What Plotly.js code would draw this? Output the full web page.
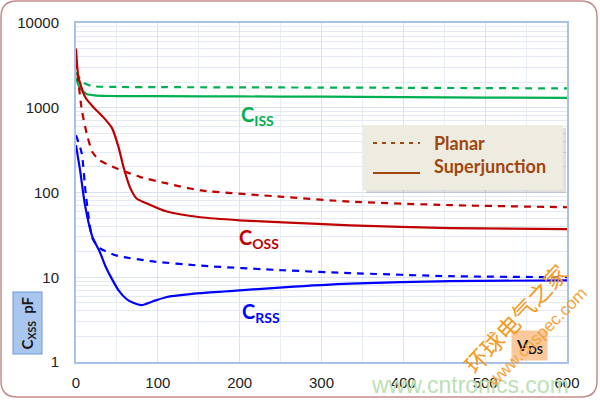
<!DOCTYPE html>
<html>
<head>
<meta charset="utf-8">
<script src="https://cdn.plot.ly/plotly-3.0.1.min.js"></script>
<style>
  html, body { margin: 0; padding: 0; background: #ffffff; }
  #chart { width: 600px; height: 400px; }
</style>
</head>
<body>
<div id="chart"></div>
<script>
// drain voltage VDS (V) and capacitance (pF)
const planarCissX = [0, 5, 10, 20, 50, 100, 200, 300, 400, 500, 600];
const planarCissY = [2600, 2200, 1950, 1800, 1760, 1750, 1740, 1730, 1720, 1705, 1690];

const sjCissX = [0, 3, 6, 13, 25, 50, 100, 200, 300, 400, 500, 600];
const sjCissY = [2250, 1850, 1650, 1450, 1390, 1375, 1370, 1360, 1350, 1335, 1320, 1310];

const planarCossX = [0, 3, 7, 13, 20, 29, 50, 78, 111, 152, 253, 335, 457, 600];
const planarCossY = [3500, 2000, 950, 500, 300, 240, 192, 153, 128, 106, 89, 78, 71, 67];

const sjCossX = [0, 3, 11, 21, 33, 44, 52, 58, 66, 74, 87, 110, 152, 200, 253, 335, 457, 600];
const sjCossY = [5000, 2300, 1350, 1020, 780, 575, 343, 200, 115, 85, 74, 60, 51, 47, 44.5, 41, 38, 37];

const planarCrssX = [0, 7, 12, 20, 29, 50, 91, 152, 253, 335, 457, 600];
const planarCrssY = [475, 290, 95, 29, 22, 18, 15.5, 13.7, 12.1, 11.2, 10.3, 10.0];

const sjCrssX = [0, 5, 11, 20, 29, 36, 44, 52, 62, 70, 80, 94, 111, 152, 200, 253, 335, 457, 600];
const sjCrssY = [362, 183, 71, 30, 20, 13.5, 9.5, 7.0, 5.5, 5.0, 4.7, 5.2, 5.85, 6.5, 7.0, 7.6, 8.4, 9.0, 9.2];

const yTickVals = [1, 10, 100, 1000, 10000];
const yTickText = ["1", "10", "100", "1000", "10000"];

const green = "#00B050";
const red = "#C00000";
const blue = "#0000FF";
const brown = "#A0460E";

// plot area in pixels: x 76..567, y 23..362
const L = 76, R = 567, T = 23, B = 362;
const px = (x) => (x - L) / (R - L);
const py = (y) => (B - y) / (B - T);

const minorY = [];
[1, 10, 100, 1000].forEach((d) => {
  for (let k = 2; k <= 9; k++) minorY.push(d * k);
});

const curve = (x, y, color, dash) => ({
  type: "scatter",
  mode: "lines",
  x,
  y,
  line: { color, width: 2.2, dash, shape: "spline", smoothing: 0.6 },
  showlegend: false,
  hoverinfo: "skip"
});

const dashPat = "7px,6px";

const traces = [
  curve(planarCissX, planarCissY, green, dashPat),
  curve(sjCissX, sjCissY, green, "solid"),
  curve(planarCossX, planarCossY, red, dashPat),
  curve(sjCossX, sjCossY, red, "solid"),
  curve(planarCrssX, planarCrssY, blue, dashPat),
  curve(sjCrssX, sjCrssY, blue, "solid")
];

const labelFont = (color) => ({ family: "Lato, 'Open Sans', sans-serif", size: 20, color });

const annotations = [
  { x: 222, y: Math.log10(800), text: "<b>C<sub>ISS</sub></b>", font: labelFont(green) },
  { x: 224, y: Math.log10(29), text: "<b>C<sub>OSS</sub></b>", font: labelFont(red) },
  { x: 226, y: Math.log10(3.8), text: "<b>C<sub>RSS</sub></b>", font: labelFont(blue) }
].map((a) => Object.assign({ xref: "x", yref: "y", showarrow: false, xanchor: "center", yanchor: "middle" }, a));

// legend text
annotations.push(
  {
    xref: "paper", yref: "paper", x: px(432), y: py(143), xanchor: "left", yanchor: "middle",
    text: "<b>Planar</b>", showarrow: false,
    font: { family: "Lato, sans-serif", size: 18, color: brown }
  },
  {
    xref: "paper", yref: "paper", x: px(432), y: py(166), xanchor: "left", yanchor: "middle",
    text: "<b>Superjunction</b>", showarrow: false,
    font: { family: "Lato, sans-serif", size: 18, color: brown }
  }
);

// axis title boxes
annotations.push(
  {
    xref: "paper", yref: "paper", x: px(27.5), y: py(323), xanchor: "center", yanchor: "middle",
    text: "<b>C<sub>XSS</sub>  pF</b>", textangle: -90, showarrow: false,
    font: { family: "Lato, sans-serif", size: 15, color: "#1a1a1a" },
    bgcolor: "#A9C7EE", bordercolor: "#6E98D8", borderwidth: 1, borderpad: 4
  },
  {
    xref: "paper", yref: "paper", x: px(529), y: py(345), xanchor: "center", yanchor: "middle",
    text: "<b>V<sub>DS</sub></b>", showarrow: false,
    font: { family: "Lato, sans-serif", size: 16, color: "#111111" },
    bgcolor: "#FBC89C", borderpad: 4
  }
);

// watermarks
annotations.push(
  {
    xref: "paper", yref: "paper", x: px(470), y: py(385), xanchor: "center", yanchor: "middle",
    text: "www.cntronics.com", showarrow: false,
    font: { family: "Liberation Sans, Arial, sans-serif", size: 23, color: "#BCE0B4" }
  },
  {
    xref: "paper", yref: "paper", x: px(515), y: py(318), xanchor: "center", yanchor: "middle",
    text: "环球电气之家", textangle: -47, showarrow: false,
    font: { family: "Noto Sans CJK SC, sans-serif", size: 23, color: "#F59A1E" }
  },
  {
    xref: "paper", yref: "paper", x: px(537), y: py(337), xanchor: "center", yanchor: "middle",
    text: "www.cnspec.com", textangle: -45, showarrow: false,
    font: { family: "Liberation Sans, Arial, sans-serif", size: 17, color: "#F5A43A" }
  }
);

// rounded outer frame
const fx0 = px(1), fx1 = px(597), fy0 = py(397), fy1 = py(1);
const rx = 16 / (R - L), ry = 16 / (B - T);
const framePath =
  `M ${fx0 + rx},${fy1} L ${fx1 - rx},${fy1} Q ${fx1},${fy1} ${fx1},${fy1 - ry} ` +
  `L ${fx1},${fy0 + ry} Q ${fx1},${fy0} ${fx1 - rx},${fy0} ` +
  `L ${fx0 + rx},${fy0} Q ${fx0},${fy0} ${fx0},${fy0 + ry} ` +
  `L ${fx0},${fy1 - ry} Q ${fx0},${fy1} ${fx0 + rx},${fy1} Z`;

const shapes = [
  {
    type: "path", xref: "paper", yref: "paper", path: framePath,
    line: { color: "#C38C8C", width: 1.5 }, layer: "below"
  },
  // legend shadow + box
  {
    type: "rect", xref: "paper", yref: "paper",
    x0: px(366), x1: px(566), y0: py(193), y1: py(128),
    fillcolor: "rgba(0,0,0,0.12)", line: { width: 0 }
  },
  {
    type: "rect", xref: "paper", yref: "paper",
    x0: px(363), x1: px(563), y0: py(190), y1: py(125),
    fillcolor: "#EEEBE1", line: { width: 0 }
  },
  {
    type: "line", xref: "paper", yref: "paper",
    x0: px(373), x1: px(420), y0: py(143), y1: py(143),
    line: { color: brown, width: 2, dash: "4px,5px" }
  },
  {
    type: "line", xref: "paper", yref: "paper",
    x0: px(373), x1: px(420), y0: py(173), y1: py(173),
    line: { color: brown, width: 2 }
  }
];

const layout = {
  width: 600,
  height: 400,
  paper_bgcolor: "#ffffff",
  plot_bgcolor: "#ffffff",
  margin: { l: L, r: 600 - R, t: T, b: 400 - B },
  font: { family: "Liberation Sans, Arial, sans-serif", size: 15, color: "#222222" },
  showlegend: false,
  xaxis: {
    range: [0, 600],
    dtick: 100,
    tick0: 0,
    showgrid: true,
    gridcolor: "#D8E2F0",
    gridwidth: 1,
    minor: { dtick: 50, showgrid: true, gridcolor: "#E8EEF6", gridwidth: 1 },
    showline: true,
    mirror: true,
    linecolor: "#A8C1E8",
    linewidth: 2,
    zeroline: false,
    ticks: "",
    ticklabelstandoff: 6,
    tickfont: { size: 15, color: "#222222" }
  },
  yaxis: {
    type: "log",
    range: [0, 4],
    tickvals: yTickVals,
    ticktext: yTickText,
    showgrid: true,
    gridcolor: "#D8E2F0",
    gridwidth: 1,
    minor: { tickvals: minorY, showgrid: true, gridcolor: "#E3EAF4", gridwidth: 1, ticks: "" },
    showline: true,
    mirror: true,
    linecolor: "#A8C1E8",
    linewidth: 2,
    zeroline: false,
    ticks: "",
    ticklabelstandoff: 12,
    tickfont: { size: 15, color: "#222222" }
  },
  shapes,
  annotations
};

Plotly.newPlot("chart", traces, layout, { displayModeBar: false, staticPlot: true });
</script>
</body>
</html>
